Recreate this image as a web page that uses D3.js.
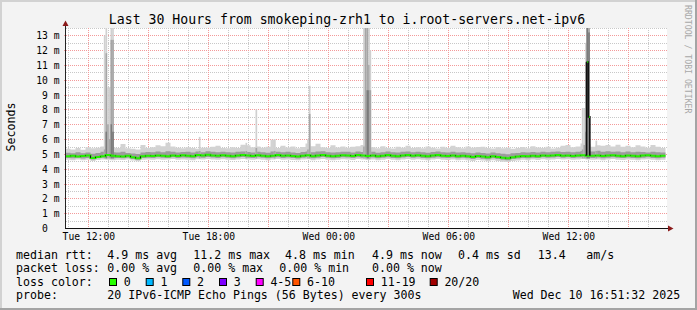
<!DOCTYPE html>
<html><head><meta charset="utf-8">
<script src="https://cdn.jsdelivr.net/npm/d3@7"></script>
<style>
html,body{margin:0;padding:0;background:#f3f3f3;}
svg{display:block;}
text{font-family:"DejaVu Sans Mono",monospace;fill:#000;}
</style></head><body>
<svg id="c" width="697" height="310"></svg>
<script>
// ---------------- data ----------------
const titleText = "Last 30 Hours from smokeping-zrh1 to i.root-servers.net-ipv6";
const yAxisTitle = "Seconds";
const windowEnd = new Date(2025, 11, 10, 16, 51, 32);
const windowHours = 30;
const stepMinutes = 15;               // resolution of the arrays below
const yMaxMs = 13.5;
const yTickMs = [0,1,2,3,4,5,6,7,8,9,10,11,12,13];
const xLabelEveryHours = 6;

// median round trip time, ms (one value per 15 min)
const median = [
4.85,4.88,4.83,4.86,4.90,4.72,4.80,4.84,4.92,4.88,
4.85,4.82,4.87,4.78,4.70,4.84,4.88,4.86,4.90,4.87,
4.84,4.89,4.86,4.91,4.88,4.85,4.92,4.89,4.94,4.90,
4.87,4.91,4.88,4.85,4.90,4.93,4.89,4.86,4.91,4.88,
4.84,4.88,4.92,4.87,4.90,4.86,4.83,4.88,4.91,4.85,
4.89,4.93,4.88,4.84,4.87,4.91,4.90,4.86,4.92,4.89,
4.86,4.90,4.84,4.88,4.92,4.87,4.85,4.90,4.93,4.88,
4.91,4.87,4.84,4.89,4.92,4.88,4.86,4.90,4.85,4.88,
4.84,4.80,4.86,4.82,4.78,4.85,4.80,4.74,4.70,4.78,
4.82,4.86,4.84,4.88,4.85,4.90,4.87,4.89,4.92,4.88,
4.90,4.86,4.89,4.91,4.88,4.87,4.90,4.86,4.89,4.91,
4.88,4.85,4.90,4.87,4.84,4.89,4.91,4.87,4.85,4.88];
// smoke: fastest ping, lower quartile, upper quartile, slowest ping (ms)
const smokeMin = [
4.60,4.58,4.62,4.57,4.61,4.52,4.59,4.63,4.60,4.58,
4.61,4.59,4.62,4.55,4.50,4.60,4.63,4.61,4.64,4.60,
4.62,4.65,4.60,4.63,4.61,4.58,4.64,4.62,4.66,4.63,
4.60,4.64,4.61,4.59,4.63,4.66,4.62,4.60,4.64,4.61,
4.58,4.62,4.65,4.60,4.63,4.59,4.57,4.62,4.64,4.58,
4.62,4.66,4.61,4.58,4.60,4.64,4.63,4.59,4.65,4.62,
4.59,4.63,4.57,4.61,4.65,4.60,4.58,4.63,4.66,4.61,
4.64,4.60,4.57,4.62,4.65,4.61,4.59,4.63,4.58,4.61,
4.57,4.53,4.59,4.55,4.51,4.58,4.53,4.48,4.45,4.52,
4.56,4.60,4.58,4.62,4.59,4.64,4.61,4.63,4.66,4.62,
4.64,4.60,4.63,4.65,4.62,4.60,4.63,4.58,4.62,4.65,
4.61,4.59,4.63,4.60,4.57,4.62,4.64,4.60,4.58,4.61];
const smokeLo = [
4.72,4.70,4.74,4.69,4.73,4.62,4.70,4.75,4.76,4.71,
4.73,4.71,4.74,4.66,4.61,4.72,4.75,4.73,4.77,4.74,
4.73,4.77,4.72,4.76,4.74,4.70,4.78,4.75,4.79,4.76,
4.73,4.77,4.74,4.71,4.76,4.79,4.75,4.72,4.77,4.74,
4.70,4.74,4.78,4.73,4.76,4.72,4.69,4.75,4.77,4.71,
4.75,4.79,4.74,4.70,4.73,4.77,4.76,4.72,4.78,4.75,
4.72,4.76,4.70,4.74,4.78,4.73,4.71,4.76,4.79,4.74,
4.77,4.73,4.70,4.75,4.78,4.74,4.72,4.76,4.71,4.74,
4.70,4.66,4.72,4.68,4.64,4.71,4.66,4.61,4.58,4.65,
4.69,4.73,4.71,4.75,4.72,4.77,4.74,4.76,4.79,4.75,
4.77,4.73,4.76,4.78,4.75,4.73,4.76,4.71,4.75,4.78,
4.74,4.72,4.76,4.73,4.70,4.75,4.77,4.73,4.71,4.74];
const smokeHi = [
5.08,5.05,5.12,5.04,5.10,5.02,5.06,5.14,5.10,5.12,
5.09,5.15,5.07,5.03,5.00,5.10,5.13,5.11,5.16,5.12,
5.18,5.14,5.10,5.13,5.15,5.09,5.16,5.12,5.18,5.14,
5.11,5.15,5.12,5.09,5.14,5.17,5.13,5.10,5.15,5.12,
5.08,5.16,5.15,5.11,5.14,5.10,5.07,5.13,5.17,5.12,
5.16,5.18,5.12,5.09,5.11,5.15,5.14,5.10,5.16,5.13,
5.10,5.14,5.08,5.12,5.16,5.11,5.09,5.14,5.17,5.12,
5.15,5.11,5.08,5.13,5.16,5.12,5.10,5.14,5.09,5.12,
5.08,5.05,5.10,5.06,5.03,5.09,5.05,5.01,4.98,5.04,
5.07,5.11,5.09,5.13,5.10,5.15,5.12,5.14,5.17,5.13,
5.15,5.11,5.14,5.20,5.18,5.16,5.22,5.15,5.18,5.14,
5.17,5.12,5.16,5.11,5.14,5.13,5.10,5.15,5.12,5.10];
const smokeMax = [
5.35,5.30,5.40,5.28,5.45,5.38,5.42,5.50,5.36,5.44,
5.40,5.67,5.38,5.35,5.30,5.60,5.40,5.45,5.58,5.52,
5.76,5.50,5.42,5.38,5.45,5.40,5.35,5.42,5.42,5.48,
5.55,5.40,5.38,5.45,5.40,5.62,5.58,5.45,5.50,5.42,
5.48,5.95,5.40,5.55,5.44,5.50,5.38,5.46,5.70,5.52,
5.68,5.45,5.40,5.58,5.44,5.50,5.42,5.48,5.52,5.60,
5.50,5.45,5.38,5.52,5.40,5.36,5.48,5.42,5.55,5.40,
5.45,5.38,5.50,5.42,5.36,5.48,5.40,5.55,5.45,5.38,
5.50,5.42,5.46,5.48,5.40,5.36,5.45,5.38,5.42,5.35,
5.40,5.46,5.38,5.52,5.44,5.40,5.48,5.36,5.42,5.55,
5.60,5.45,5.50,5.70,5.65,5.48,5.58,5.55,5.60,5.50,
5.62,5.48,5.55,5.45,5.58,5.50,5.42,5.60,5.48,5.40];
// short 5-minute outliers: minutes after window start, slowest, upper quartile, dense core, median (null = normal)
const spikeMinute = [115,120,125,130,135,140, 400,540,570,625,725,730, 893,898,903,908,912, 1549,1554,1559,1563,1568, 1590];
const spikeMax    = [13.0,15,9.5,9.5,15,15, 6.15,5.75,8.0,6.0,6.0,9.6, 15,15,15,15,12, 8.1,8.1,12.5,15,15, 5.9];
const spikeHigh   = [5.3,11.8,7.0,6.0,12.7,12.7, 5.2,5.2,5.4,5.2,5.3,7.7, 5.5,15,15,11,9.3, 5.3,5.6,6.5,15,15, 5.2];
const spikeCore   = [0,6.5,0,0,7.0,6.5, 0,0,0,0,0,0, 0,0,9.3,9.3,0, 0,0,0,15,13.2, 0];
const spikeMedian = [null,null,null,null,null,null, null,null,null,null,null,null, null,null,null,null,null, null,null,null,11.2,7.5, null];

const rttStats  = [["4.9","ms avg"],["11.2","ms max"],["4.8","ms min"],["4.9","ms now"],["0.4","ms sd"],["13.4",""]];
const rttUnit = "am/s";
const lossStats = [["0.00","% avg"],["0.00","% max"],["0.00","% min"],["0.00","% now"]];
const lossBins = ["0","1","2","3","4-5","6-10","11-19","20/20"];
const probeText = "20 IPv6-ICMP Echo Pings (56 Bytes) every 300s";
const stampText = "Wed Dec 10 16:51:32 2025";
const sideText = "RRDTOOL / TOBI OETIKER";

// ---------------- layout / styles ----------------
const lossColors = ["#26ff00","#00b8ff","#0059ff","#7e00ff","#ff00ff","#ff5500","#ff0000","#a10000"];
const rttX = [107.3,193.3,285,372,458,537.7], rttUnitX = 586.3;
const lossX = [107.3,193.3,279.3,372];
const boxX = [109,145.7,182.3,219,255.7,292.3,366,429.7];
const rowY = [258.5,272,285.7,299];
const LF = "11.6px";

const svg = d3.select("#c");
const W = 697, H = 310;
const P = {l:66, r:667, t:28, b:228};
const start = new Date(windowEnd.getTime() - windowHours*3600e3);
const x = d3.scaleTime().domain([start, windowEnd]).range([65.5, 665.5]);
const y = d3.scaleLinear().domain([0, yMaxMs]).range([228, 28]);
const tAt = i => new Date(start.getTime() + i*stepMinutes*60e3);
const tMin = m => new Date(start.getTime() + m*60e3);

// frame
svg.append("rect").attr("width",W).attr("height",H).attr("fill","#f3f3f3");
svg.append("path").attr("d",`M1,${H} V1 H${W}`).attr("stroke","#d2d2d2").attr("stroke-width",2).attr("fill","none");
svg.append("path").attr("d",`M0,${H-1} H${W-1} V0`).attr("stroke","#a4a4a4").attr("stroke-width",2).attr("fill","none");

// plot background
svg.append("rect").attr("x",P.l).attr("y",P.t).attr("width",P.r-P.l).attr("height",P.b-P.t).attr("fill","#fff");
svg.append("clipPath").attr("id","pc").append("rect").attr("x",P.l).attr("y",P.t).attr("width",P.r-P.l).attr("height",P.b-P.t);

// grid
const grid = svg.append("g").attr("shape-rendering","crispEdges");
const hours = x.ticks(d3.timeHour.every(1));
hours.filter(d => d.getHours()%3 !== 0).forEach(d => {
  grid.append("line").attr("x1",Math.round(x(d))+0.5).attr("x2",Math.round(x(d))+0.5).attr("y1",P.t).attr("y2",P.b)
    .attr("stroke","#c8c8c8").attr("stroke-dasharray","1,1");
});
d3.range(1, yMaxMs*2+1, 2).map(k => k/2).forEach(v => {
  grid.append("line").attr("x1",P.l).attr("x2",P.r).attr("y1",Math.round(y(v))+0.5).attr("y2",Math.round(y(v))+0.5)
    .attr("stroke","#c8c8c8").attr("stroke-dasharray","1,1");
});
hours.filter(d => d.getHours()%3 === 0).forEach(d => {
  grid.append("line").attr("x1",Math.round(x(d))+0.5).attr("x2",Math.round(x(d))+0.5).attr("y1",P.t).attr("y2",P.b+2)
    .attr("stroke","#f39a9a").attr("stroke-dasharray","1,1");
});
yTickMs.filter(v => v>0).forEach(v => {
  grid.append("line").attr("x1",P.l-2).attr("x2",P.r).attr("y1",Math.round(y(v))+0.5).attr("y2",Math.round(y(v))+0.5)
    .attr("stroke","#f39a9a").attr("stroke-dasharray","1,1");
});

// smoke
const plot = svg.append("g").attr("clip-path","url(#pc)");
const idx = d3.range(median.length+1);
const val = (arr,i) => arr[Math.min(i, arr.length-1)];
const band = (a,b) => d3.area().curve(d3.curveStepAfter)
  .x(i => x(tAt(i))).y0(i => y(val(a,i))).y1(i => y(val(b,i)));
plot.append("path").attr("d", band(smokeMin, smokeMax)(idx)).attr("fill","#d3d3d3");
plot.append("path").attr("d", band(smokeLo, smokeHi)(idx)).attr("fill","#9c9c9c");

// spikes
spikeMinute.forEach((m,j) => {
  const x0 = x(tMin(m)), x1 = x(tMin(m+5));
  const base = y(4.7);
  plot.append("rect").attr("x",x0).attr("width",x1-x0).attr("y",y(spikeMax[j])).attr("height",base-y(spikeMax[j])).attr("fill","#d0d0d0");
  plot.append("rect").attr("x",x0).attr("width",x1-x0).attr("y",y(spikeHigh[j])).attr("height",base-y(spikeHigh[j])).attr("fill","#a6a6a6");
  if (spikeCore[j] > 0)
    plot.append("rect").attr("x",x0).attr("width",x1-x0).attr("y",y(spikeCore[j])).attr("height",base-y(spikeCore[j])).attr("fill","#7c7c7c");
});

// median line: green levels, dark transitions
const medLine = d3.line().curve(d3.curveStepAfter).x(i => x(tAt(i))).y(i => y(val(median,i)));
plot.append("path").attr("d", medLine(idx)).attr("fill","none").attr("stroke","#26f000").attr("stroke-width",2);
const trans = plot.append("g").attr("stroke","#1a1a1a").attr("stroke-width",1);
median.forEach((v,i) => {
  if (i === 0) return;
  const xx = x(tAt(i));
  trans.append("line").attr("x1",xx).attr("x2",xx).attr("y1",y(median[i-1])).attr("y2",y(v));
});
// median excursions inside outliers
const medSpikes = spikeMinute.map((m,j) => ({m, v: spikeMedian[j]})).filter(d => d.v !== null);
if (medSpikes.length) {
  const baseV = median[Math.floor(medSpikes[0].m/stepMinutes)];
  const pts = [{m: medSpikes[0].m, v: baseV}].concat(medSpikes).concat([{m: medSpikes[medSpikes.length-1].m+5, v: baseV}]);
  const sl = d3.line().curve(d3.curveStepAfter).x(d => x(tMin(d.m))).y(d => y(d.v));
  plot.append("path").attr("d", sl(pts.slice(1))).attr("fill","none").attr("stroke","#111").attr("stroke-width",1.6);
  plot.append("line").attr("x1",x(tMin(pts[1].m))).attr("x2",x(tMin(pts[1].m))).attr("y1",y(baseV)).attr("y2",y(pts[1].v)).attr("stroke","#111").attr("stroke-width",1.6);
  medSpikes.forEach(d => {
    plot.append("line").attr("x1",x(tMin(d.m))+0.8).attr("x2",x(tMin(d.m+5))).attr("y1",y(d.v)).attr("y2",y(d.v))
      .attr("stroke","#26f000").attr("stroke-width",2);
  });
}

// axes
const xAxis = d3.axisBottom(x)
  .tickValues(hours.filter(d => d.getHours() % xLabelEveryHours === 0))
  .tickFormat(d3.timeFormat("%a %H:%M")).tickSize(0).tickPadding(5);
const gx = svg.append("g").attr("transform","translate(0,228)").call(xAxis);
gx.select(".domain").remove();
gx.selectAll("text").attr("font-family","DejaVu Sans Mono").attr("font-size","9.7px").attr("fill","#000");

const yAxis = d3.axisLeft(y).tickValues(yTickMs).tickFormat(d => d === 0 ? "0" : d + " m").tickSize(0).tickPadding(6);
const gy = svg.append("g").attr("transform","translate(65.5,0)").call(yAxis);
gy.select(".domain").remove();
gy.selectAll("text").attr("font-family","DejaVu Sans Mono").attr("font-size","9.7px").attr("fill","#000").attr("dy","0.36em");
gy.selectAll(".tick").filter(d => d === 0).select("text").attr("dx", -11.6);

svg.append("line").attr("x1",65.5).attr("x2",65.5).attr("y1",229).attr("y2",25).attr("stroke","#222");
svg.append("line").attr("x1",65).attr("x2",669).attr("y1",228.5).attr("y2",228.5).attr("stroke","#111");
svg.append("path").attr("d","M62.5,26 L65.5,20.5 L68.5,26 Z").attr("fill","#8b1a1a");
svg.append("path").attr("d","M668,225.5 L673.5,228.5 L668,231.5 Z").attr("fill","#8b1a1a");

// titles
svg.append("text").attr("x",347).attr("y",24).attr("text-anchor","middle").attr("font-size","13.2px").text(titleText);
svg.append("text").attr("transform","translate(15,127) rotate(-90)").attr("text-anchor","middle").attr("font-size",LF).text(yAxisTitle);
svg.append("text").attr("transform","translate(685,5) rotate(90)").attr("font-size","8.2px").style("fill","#a8a8a8").text(sideText);

// legend
const lg = svg.append("g").attr("font-size",LF);
const put = (t,xx,yy) => lg.append("text").attr("x",xx).attr("y",yy).attr("xml:space","preserve").style("white-space","pre").text(t);
put("median rtt:",16,rowY[0]);
rttStats.forEach((s,k) => put(s[1] ? s[0]+" "+s[1] : s[0], rttX[k], rowY[0]));
put(rttUnit, rttUnitX, rowY[0]);
put("packet loss:",16,rowY[1]);
lossStats.forEach((s,k) => put(s[0]+" "+s[1], lossX[k], rowY[1]));
put("loss color:",16,rowY[2]);
lossBins.forEach((b,k) => {
  lg.append("rect").attr("x",boxX[k]+0.5).attr("y",278.5).attr("width",7).attr("height",7)
    .attr("fill",lossColors[k]).attr("stroke","#000").attr("stroke-width",1);
  put(b, boxX[k]+14.7, rowY[2]);
});
put("probe:",16,rowY[3]);
put(probeText,107.3,rowY[3]);
put(stampText,512.7,rowY[3]);
</script>
</body></html>
